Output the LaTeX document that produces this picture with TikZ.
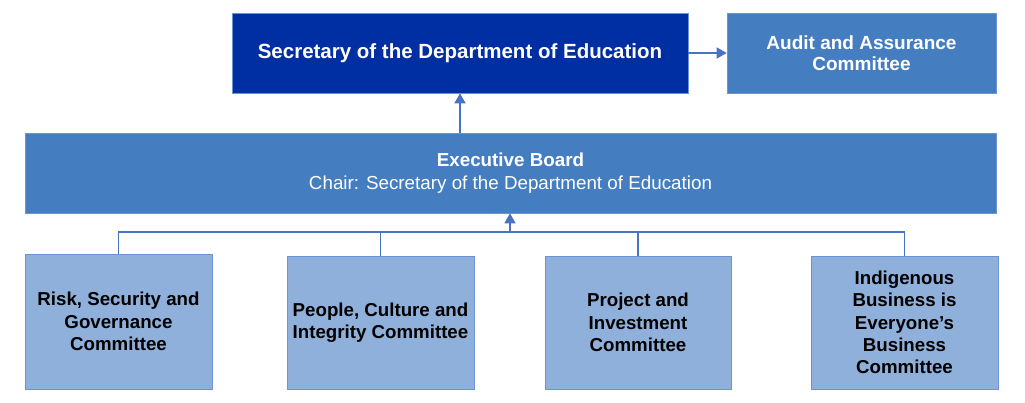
\documentclass[tikz,border=0pt]{standalone}
\usepackage{fontspec}
\setmainfont{Liberation Sans}
\usetikzlibrary{arrows.meta}
\definecolor{darkblue}{RGB}{0,46,163}
\definecolor{midblue}{RGB}{68,126,193}
\definecolor{lightblue}{RGB}{143,176,218}
\definecolor{edgeblue}{RGB}{108,147,211}
\definecolor{lineblue}{RGB}{72,114,196}
\tikzset{
  box/.style={draw=edgeblue, line width=0.6pt, rectangle, inner sep=0pt, align=center, font=\bfseries},
  topbox/.style={box, fill=darkblue, text=white, font=\bfseries\fontsize{20.5}{22}\selectfont},
  auditbox/.style={box, fill=midblue, text=white, font=\bfseries\fontsize{19}{21}\selectfont},
  execbox/.style={box, fill=midblue, text=white, font=\fontsize{18.8}{23}\selectfont},
  combox/.style={box, fill=lightblue, text=black, font=\bfseries\fontsize{18.7}{22.3}\selectfont},
  conn/.style={draw=lineblue, line width=1.4pt},
  arr/.style={conn, -{Triangle[length=10pt,width=11pt]}}
}
\begin{document}
\begin{tikzpicture}[x=1pt,y=1pt]
\useasboundingbox (0,0) rectangle (1025,403);
% top row
\node[topbox, minimum width=456pt, minimum height=80pt, text depth=3pt] (sec) at (460,350) {Secretary of the Department of Education};
\node[auditbox, minimum width=269pt, minimum height=80pt] (aud) at (861.5,350) {Audit and Assurance\\Committee};
% executive board
\node[execbox, minimum width=971pt, minimum height=80pt] (exec) at (510.5,230) {\textbf{Executive Board}\\Chair: Secretary of the Department of Education};
% committees
\node[combox, minimum width=187pt, minimum height=135pt] (risk) at (118.5,81.5) {Risk, Security and\\Governance\\Committee};
\node[combox, minimum width=187pt, minimum height=133pt] (people) at (380.5,80.5) {People, Culture and\\Integrity Committee};
\node[combox, minimum width=186pt, minimum height=133pt] (proj) at (638,80.5) {Project and\\Investment\\Committee};
\node[combox, minimum width=187pt, minimum height=133pt] (indig) at (904.5,80.5) {Indigenous\\Business is\\Everyone’s\\Business\\Committee};
% connectors
\coordinate (bus) at (510,171);
\draw[conn] (risk.north) |- (bus);
\draw[conn] (people.north) |- (bus);
\draw[conn] (proj.north) |- (bus);
\draw[conn] (indig.north) |- (bus);
\draw[arr] (bus) -- (exec.south -| bus);
\draw[arr] (exec.north -| sec.south) -- (sec.south);
\draw[arr] (sec.east) -- (aud.west);
\end{tikzpicture}
\end{document}
